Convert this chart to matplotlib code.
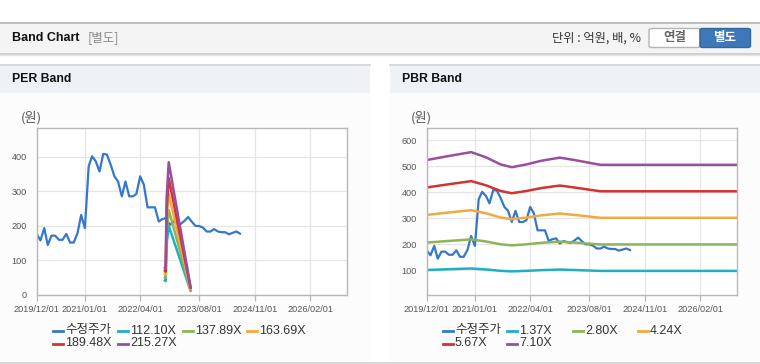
import matplotlib
matplotlib.use("Agg")
import matplotlib.pyplot as plt
from matplotlib.patches import Rectangle, FancyBboxPatch
from matplotlib.lines import Line2D
import pandas as pd

W, H = 760, 364
FAM = ['Liberation Sans', 'Noto Sans CJK KR']
plt.rcParams['font.family'] = FAM

# ---------------- data ----------------
price_dates = pd.date_range('2019-12-01', periods=56, freq='MS')
price = [177, 158, 194, 145, 172, 172, 160, 160, 177, 152, 152, 179, 232, 194,
         373, 402, 387, 358, 409, 407, 378, 344, 329, 286, 329, 286, 286, 293,
         344, 320, 254, 254, 254, 213, 220, 223, 203, 213, 208, 206, 215, 226,
         212, 200, 200, 195, 184, 184, 191, 184, 182, 182, 176, 180, 184, 178]

per_labels = ['112.10X', '137.89X', '163.69X', '189.48X', '215.27X']
per_dates = pd.to_datetime(['2022-10-22', '2022-10-28', '2022-11-05', '2022-11-22', '2023-05-21'])
per_112 = [42, 40, 146, 201, 12.5]
per_137 = [51, 50, 180, 247, 15]
per_163 = [61, 59, 214, 293, 18]
per_189 = [70, 68, 247, 339, 21]
per_215 = [79, 77, 281, 385, 24]

pbr_labels = ['1.37X', '2.80X', '4.24X', '5.67X', '7.10X']
pbr_dates = pd.to_datetime(['2019-12-01', '2020-06-01', '2020-12-01', '2021-04-01', '2021-08-01',
                            '2021-11-01', '2022-03-01', '2022-07-01', '2022-12-01', '2023-04-01',
                            '2023-08-01', '2023-11-01', '2026-12-01'])
pbr_137 = [101.2, 104.3, 107.1, 103.3, 98.0, 95.9, 98.0, 100.7, 103.0, 101.2, 99.2, 97.7, 97.7]
pbr_280 = [206.9, 213.1, 219.0, 211.1, 200.2, 196.0, 200.2, 205.8, 210.6, 206.9, 202.7, 199.6, 199.6]
pbr_424 = [313.3, 322.7, 331.6, 319.7, 303.2, 296.8, 303.2, 311.6, 318.8, 313.3, 307.0, 302.3, 302.3]
pbr_567 = [419.0, 431.5, 443.4, 427.5, 405.4, 396.9, 405.4, 416.7, 426.4, 419.0, 410.5, 404.3, 404.3]
pbr_710 = [524.7, 540.3, 555.2, 535.3, 507.7, 497.0, 507.7, 521.9, 533.9, 524.7, 514.0, 506.2, 506.2]

xtick_labels = ['2019/12/01', '2021/01/01', '2022/04/01', '2023/08/01', '2024/11/01', '2026/02/01']
per_yticks = [0, 100, 200, 300, 400]
pbr_yticks = [100, 200, 300, 400, 500, 600]

price_label = '수정주가'
C_PRICE = '#3577c9'
BAND_COLORS = ['#1eb0c2', '#8db45a', '#f0aa42', '#d2332e', '#9a4e9f']

# ---------------- figure ----------------
fig = plt.figure(figsize=(W / 100, H / 100), dpi=100)
fig.patch.set_facecolor('white')


def fx(x):
    return x / W


def fy(y):
    return 1 - y / H


def rect(x0, y0, x1, y1, fc):
    fig.patches.append(Rectangle((fx(x0), fy(y1)), fx(x1) - fx(x0), fy(y0) - fy(y1),
                                 transform=fig.transFigure, facecolor=fc, edgecolor='none',
                                 linewidth=0, zorder=-2))


def hline(x0, x1, y, c, lw=1.0):
    fig.lines.append(Line2D([fx(x0), fx(x1)], [fy(y), fy(y)], transform=fig.transFigure,
                            color=c, linewidth=lw, zorder=-1))


# top header bar
rect(0, 22, 760, 53, '#f4f4f4')
hline(0, 760, 22.5, '#b4b4b4', 1.2)
hline(0, 760, 53.5, '#c6c6c6', 1.2)
hline(0, 760, 54.5, '#e6e6e6', 1.0)
fig.text(fx(12), fy(38), 'Band Chart', fontsize=9, fontweight='bold', color='#111',
         va='center', ha='left', family=FAM)
fig.text(fx(88), fy(38), '[별도]', fontsize=9, color='#8a8a8a', va='center', ha='left',
         family=['Noto Sans CJK KR'])
fig.text(fx(641), fy(38), '단위 : 억원, 배, %', fontsize=8.8, color='#333', va='center', ha='right',
         family=['Noto Sans CJK KR'])
# buttons
fig.patches.append(FancyBboxPatch((fx(649), fy(47.5)), fx(700) - fx(649), fy(28.5) - fy(47.5),
                   boxstyle='round,pad=0,rounding_size=0.004', transform=fig.transFigure,
                   facecolor='white', edgecolor='#b5b5b5', linewidth=1, zorder=-1))
fig.patches.append(FancyBboxPatch((fx(700), fy(47.5)), fx(750.5) - fx(700), fy(28.5) - fy(47.5),
                   boxstyle='round,pad=0,rounding_size=0.004', transform=fig.transFigure,
                   facecolor='#3f78b9', edgecolor='#33679f', linewidth=1, zorder=-1))
fig.text(fx(674.5), fy(38), '연결', fontsize=9, fontweight='bold', color='#666', va='center', ha='center',
         family=['Noto Sans CJK KR'])
fig.text(fx(725), fy(38), '별도', fontsize=9, fontweight='bold', color='white', va='center', ha='center',
         family=['Noto Sans CJK KR'])

# panels
for (x0, x1, title) in [(0, 370, 'PER Band'), (390, 760, 'PBR Band')]:
    rect(x0, 64, x1, 93, '#eef2f7')
    rect(x0, 93, x1, 362, '#fcfcfc')
    hline(x0, x1, 64.5, '#d2d2d2', 1.2)
    fig.text(fx(x0 + 12), fy(79), title, fontsize=8.8, fontweight='bold', color='#111',
             va='center', ha='left', family=FAM)
hline(0, 760, 362.5, '#d0d0d0', 1.2)

xmin = pd.Timestamp('2019-12-01')
xmax = pd.Timestamp('2026-12-01')
xticks = pd.to_datetime([s.replace('/', '-') for s in xtick_labels])


def setup_axes(left_px, ylim, yticks, unit_x):
    ax = fig.add_axes([fx(left_px), fy(295), 310.5 / W, 167 / H])
    ax.set_zorder(1)
    ax.set_facecolor('white')
    ax.set_xlim(xmin, xmax)
    ax.set_ylim(*ylim)
    ax.set_xticks(xticks)
    ax.set_xticklabels(xtick_labels)
    ax.set_yticks(yticks)
    ax.grid(True, color='#e6e6e6', linewidth=0.9)
    ax.set_axisbelow(True)
    for s in ax.spines.values():
        s.set_color('#b8b8b8')
        s.set_linewidth(1.0)
    ax.tick_params(axis='x', length=4, width=0.9, color='#b8b8b8', pad=3,
                   labelsize=6.6, labelcolor='#555')
    ax.tick_params(axis='y', length=0, pad=7, labelsize=6.6, labelcolor='#555')
    fig.text(fx(unit_x), fy(118), '(원)', fontsize=9.5, color='#555', va='center', ha='left',
             family=['Noto Sans CJK KR'])
    return ax


# PER
ax1 = setup_axes(36.7, (0, 484), per_yticks, 21)
ax1.plot(price_dates, price, color=C_PRICE, lw=1.6, solid_joinstyle='round')
for vals, c in zip([per_112, per_137, per_163, per_189, per_215], BAND_COLORS):
    ax1.plot(per_dates, vals, color=c, lw=1.8)

# PBR
ax2 = setup_axes(426.7, (5, 648), pbr_yticks, 411)
ax2.plot(price_dates, price, color=C_PRICE, lw=1.6, solid_joinstyle='round')
for vals, c in zip([pbr_137, pbr_280, pbr_424, pbr_567, pbr_710], BAND_COLORS):
    ax2.plot(pbr_dates, vals, color=c, lw=1.8)


def legend(x_cols, labels, colors):
    rows = [330.5, 343.5]
    for k, (lab, c) in enumerate(zip(labels, colors)):
        r = k // 4
        col = k % 4
        x = x_cols[col]
        y = rows[r]
        fig.lines.append(Line2D([fx(x), fx(x + 10)], [fy(y), fy(y)], transform=fig.transFigure,
                                color=c, linewidth=2))
        fig.text(fx(x + 12), fy(y), lab, fontsize=9, color='#333', va='center', ha='left',
                 family=FAM)


legend([53, 118, 183, 247], [price_label] + per_labels, [C_PRICE] + BAND_COLORS)
legend([443, 507, 573, 638], [price_label] + pbr_labels, [C_PRICE] + BAND_COLORS)

fig.savefig('out.png', dpi=100, facecolor='white')
